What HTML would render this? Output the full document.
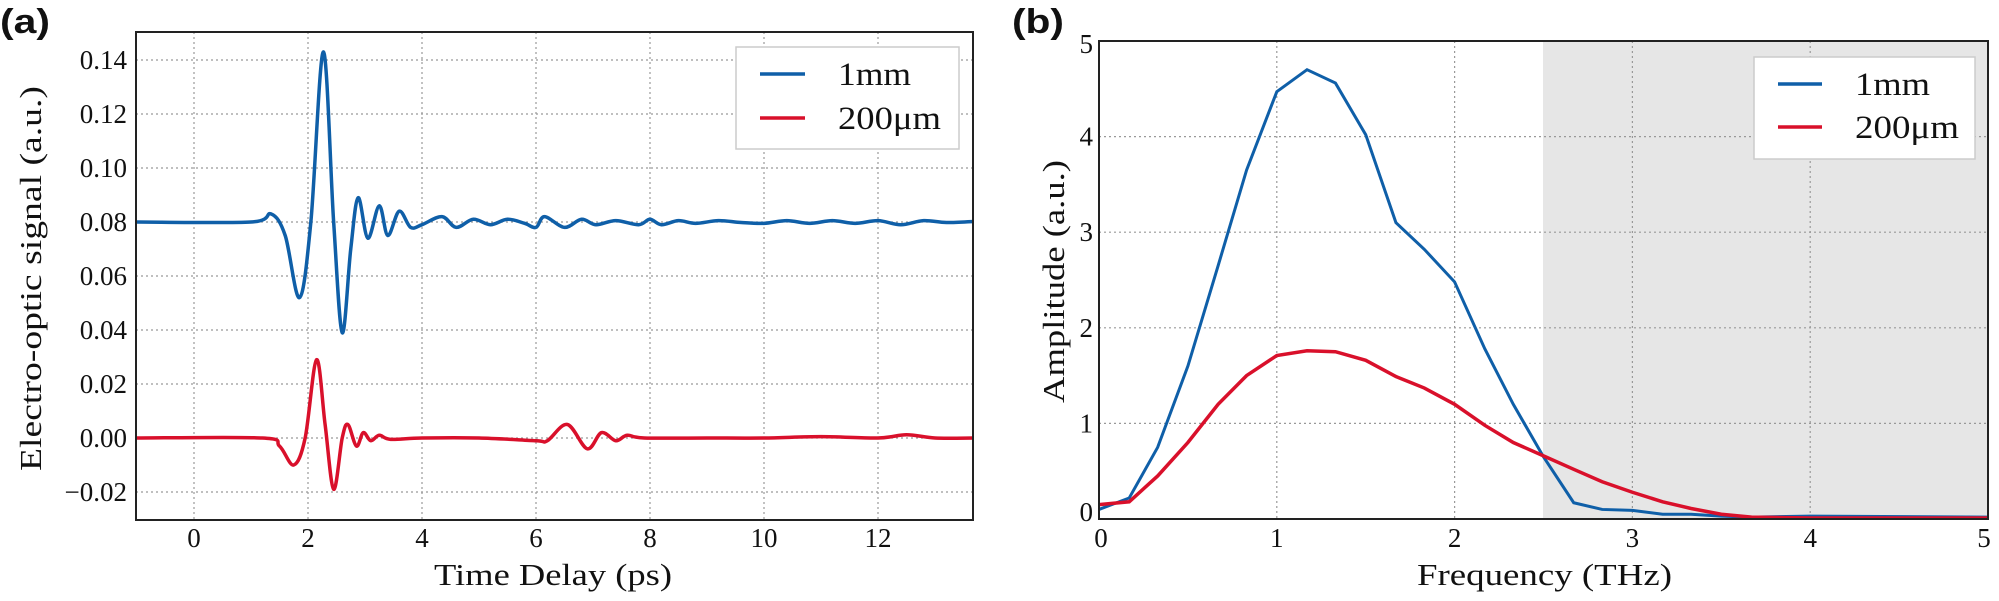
<!DOCTYPE html>
<html><head><meta charset="utf-8"><style>
html,body{margin:0;padding:0;background:#fff;}
svg text{font-family:"Liberation Serif","DejaVu Serif",serif;fill:#111;}
.pl{font-family:"Liberation Sans",sans-serif!important;font-weight:bold;}
</style></head><body>
<svg id="s" width="1999" height="596" viewBox="0 0 1999 596" xmlns="http://www.w3.org/2000/svg">
<rect width="1999" height="596" fill="#fff"/>
<text class="pl" x="0" y="33" font-size="34" textLength="50" lengthAdjust="spacingAndGlyphs">(a)</text>
<text class="pl" x="1012" y="33" font-size="34" textLength="52" lengthAdjust="spacingAndGlyphs">(b)</text>
<rect x="1543" y="41" width="445" height="478" fill="#e6e6e6"/>
<g id="g"></g>
<rect x="136" y="32" width="837" height="488" fill="none" stroke="#222" stroke-width="2"/>
<rect x="1099" y="41" width="889" height="478" fill="none" stroke="#222" stroke-width="2"/>
<rect x="736" y="47" width="223" height="102" fill="#fff" stroke="#ccc" stroke-width="1.5"/>
<line x1="760" y1="74" x2="805" y2="74" stroke="#0f5fa8" stroke-width="3.5"/>
<line x1="760" y1="118" x2="805" y2="118" stroke="#d9102b" stroke-width="3.5"/>
<text x="838" y="85" font-size="33" textLength="73" lengthAdjust="spacingAndGlyphs">1mm</text>
<text x="838" y="129" font-size="33" textLength="103" lengthAdjust="spacingAndGlyphs">200μm</text>
<rect x="1754" y="57" width="221" height="102" fill="#fff" stroke="#ccc" stroke-width="1.5"/>
<line x1="1778" y1="84" x2="1822" y2="84" stroke="#0f5fa8" stroke-width="3.5"/>
<line x1="1778" y1="127" x2="1822" y2="127" stroke="#d9102b" stroke-width="3.5"/>
<text x="1855" y="95" font-size="33" textLength="75" lengthAdjust="spacingAndGlyphs">1mm</text>
<text x="1855" y="138" font-size="33" textLength="104" lengthAdjust="spacingAndGlyphs">200μm</text>
<text x="434" y="585" font-size="31" textLength="238" lengthAdjust="spacingAndGlyphs">Time Delay (ps)</text>
<text x="1417" y="585" font-size="31" textLength="255" lengthAdjust="spacingAndGlyphs">Frequency (THz)</text>
<text transform="translate(41,471) rotate(-90)" font-size="31" textLength="385" lengthAdjust="spacingAndGlyphs">Electro-optic signal (a.u.)</text>
<text transform="translate(1064,403) rotate(-90)" font-size="31" textLength="243" lengthAdjust="spacingAndGlyphs">Amplitude (a.u.)</text>
</svg>
<script>
var NS="http://www.w3.org/2000/svg",g=document.getElementById('g');
function el(t,a,txt){var e=document.createElementNS(NS,t);for(var k in a)e.setAttribute(k,a[k]);if(txt!=null)e.textContent=txt;g.appendChild(e);return e;}
var LX=function(v){return 194+57*v},LY=function(v){return 438-(v/0.02)*54};
for(var t=0;t<=12;t+=2){var x=LX(t);el('line',{x1:x,y1:32,x2:x,y2:520,stroke:'#999','stroke-dasharray':'2,3','stroke-width':1.2});el('text',{x:x,y:547,'font-size':27,'text-anchor':'middle'},String(t));}
for(var i=-1;i<=7;i++){var v=i*0.02,y=LY(v);el('line',{x1:136,y1:y,x2:973,y2:y,stroke:'#999','stroke-dasharray':'2,3','stroke-width':1.2});el('text',{x:127,y:y+9,'font-size':27,'text-anchor':'end'},(v<0?'\u22120.02':v.toFixed(2)));}
var RX=function(v){return 1099+177.8*v},RY=function(v){return 519-95.6*v};
for(var t=0;t<=5;t++){var x=RX(t);if(t>0&&t<5)el('line',{x1:x,y1:41,x2:x,y2:519,stroke:'#999','stroke-dasharray':'2,3','stroke-width':1.2});el('text',{x:t==0?x+2:(t==5?x-4:x),y:547,'font-size':27,'text-anchor':'middle'},String(t));
 var y=RY(t);if(t>0)el('line',{x1:1099,y1:y,x2:1988,y2:y,stroke:'#999','stroke-dasharray':'2,3','stroke-width':1.2});el('text',{x:1093,y:t==0?y+2:(t==5?y+12:y+9),'font-size':27,'text-anchor':'end'},String(t));}
function smooth(p){var d='M'+p[0][0]+','+p[0][1];for(var i=0;i<p.length-1;i++){var p0=p[i-1]||p[i],p1=p[i],p2=p[i+1],p3=p[i+2]||p2;d+=' C'+(p1[0]+(p2[0]-p0[0])/6)+','+(p1[1]+(p2[1]-p0[1])/6)+' '+(p2[0]-(p3[0]-p1[0])/6)+','+(p2[1]-(p3[1]-p1[1])/6)+' '+p2[0]+','+p2[1];}return d;}
var b=[[-1,.08],[1,.08],[1.35,.083],[1.6,.075],[1.85,.052],[2.05,.08],[2.27,.143],[2.45,.08],[2.6,.039],[2.75,.07],[2.88,.089],[3.05,.074],[3.25,.086],[3.4,.075],[3.6,.084],[3.8,.078],[4.0,.079],[4.35,.082],[4.6,.078],[4.9,.081],[5.2,.079],[5.5,.081],[5.8,.0795],[6.0,.078],[6.15,.082],[6.5,.078],[6.8,.081],[7.05,.079],[7.4,.0805],[7.8,.079],[8.0,.081],[8.2,.079],[8.5,.0805],[8.8,.0795],[9.2,.0805],[9.6,.0798],[10,.0795],[10.4,.0805],[10.8,.0795],[11.2,.0805],[11.6,.0795],[12,.0805],[12.4,.079],[12.8,.0805],[13.2,.0798],[13.67,.0802]];
var r=[[-1,0],[1.2,0],[1.5,-.003],[1.75,-.01],[1.95,0],[2.15,.029],[2.3,.005],[2.45,-.019],[2.6,0],[2.7,.005],[2.85,-.003],[2.97,.002],[3.1,-.001],[3.25,.001],[3.45,-.0005],[4,0],[5,0],[6,-.001],[6.2,-.001],[6.55,.005],[6.9,-.004],[7.15,.002],[7.4,-.001],[7.6,.001],[7.9,0],[9,0],[10,0],[11,0.0005],[12,0],[12.5,.0012],[13,0],[13.67,0]];
el('path',{d:smooth(b.map(function(p){return[LX(p[0]),LY(p[1])]})),fill:'none',stroke:'#0f5fa8','stroke-width':3.5});
el('path',{d:smooth(r.map(function(p){return[LX(p[0]),LY(p[1])]})),fill:'none',stroke:'#d9102b','stroke-width':3.5});
var fb=[[0,.1],[.17,.22],[.33,.75],[.5,1.6],[.67,2.65],[.83,3.65],[1,4.47],[1.17,4.7],[1.33,4.56],[1.5,4.02],[1.67,3.1],[1.83,2.82],[2,2.48],[2.17,1.78],[2.33,1.2],[2.5,.65],[2.67,.17],[2.83,.1],[3,.09],[3.17,.05],[3.33,.05],[3.5,.03],[3.67,.02],[4,.03],[5,.02]];
var fr=[[0,.15],[.17,.18],[.33,.45],[.5,.8],[.67,1.2],[.83,1.5],[1,1.71],[1.17,1.76],[1.33,1.75],[1.5,1.66],[1.67,1.49],[1.83,1.37],[2,1.2],[2.17,.98],[2.33,.8],[2.5,.66],[2.67,.52],[2.83,.39],[3,.28],[3.17,.18],[3.33,.11],[3.5,.05],[3.67,.02],[4,.01],[5,.01]];
function pl(a){return a.map(function(p){return RX(p[0])+','+RY(p[1])}).join(' ')}
el('polyline',{points:pl(fb),fill:'none',stroke:'#0f5fa8','stroke-width':3});
el('polyline',{points:pl(fr),fill:'none',stroke:'#d9102b','stroke-width':3.5});
</script>
</body></html>
